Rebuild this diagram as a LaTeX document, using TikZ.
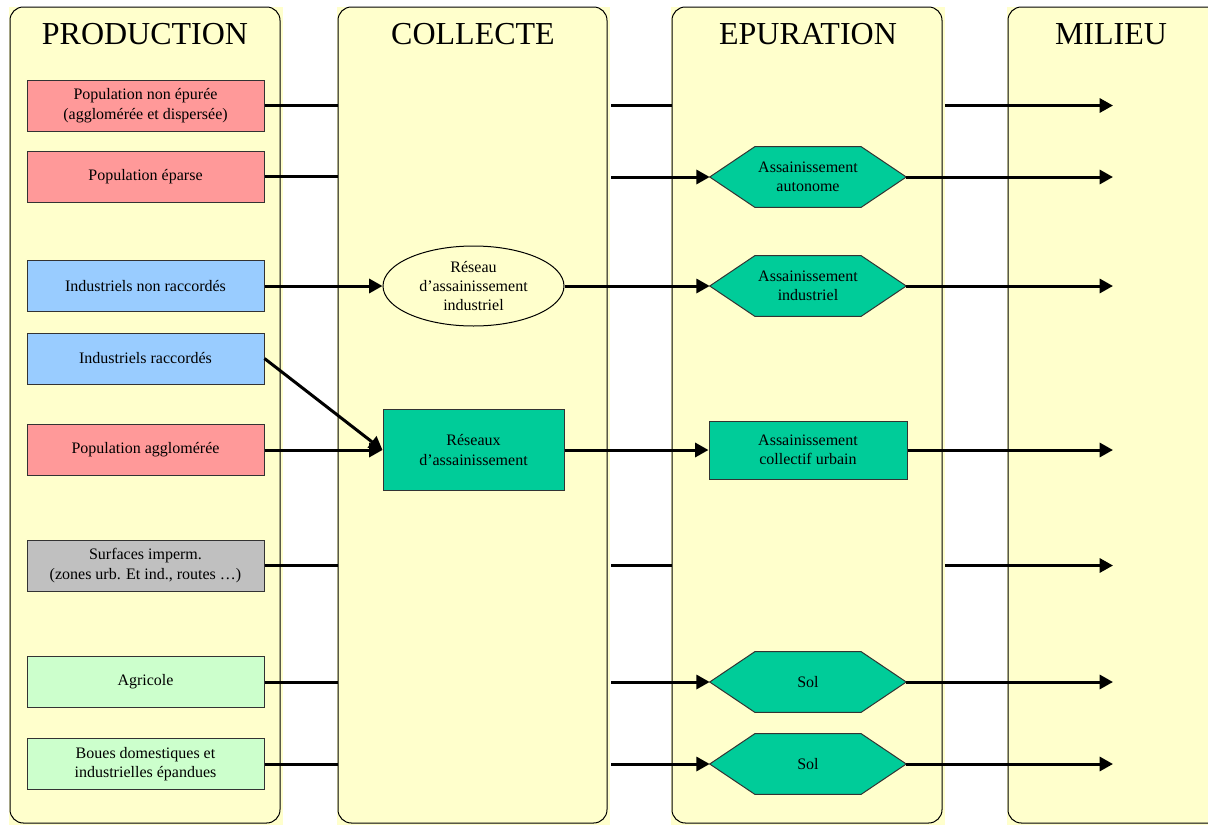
\documentclass[tikz,border=0pt]{standalone}
\usepackage{fontspec}
\setmainfont{Liberation Serif}
\usetikzlibrary{shapes.geometric,arrows.meta}
\pgfdeclarelayer{bg}
\pgfdeclarelayer{hexl}
\pgfsetlayers{bg,hexl,main}
\definecolor{colyel}{HTML}{FFFFCC}
\definecolor{pinkc}{HTML}{FF9999}
\definecolor{bluec}{HTML}{99CCFF}
\definecolor{grayc}{HTML}{C0C0C0}
\definecolor{greenc}{HTML}{CCFFCC}
\definecolor{tealc}{HTML}{00CC99}
\definecolor{edgec}{HTML}{333333}
\newcommand{\hexa}[1]{%
  \begin{pgfonlayer}{hexl}
  \filldraw[fill=tealc,draw=edgec,line width=0.75pt] (#1.west) -- ([xshift=33.75pt]#1.north west) -- ([xshift=-33.75pt]#1.north east) -- (#1.east) -- ([xshift=-33.75pt]#1.south east) -- ([xshift=33.75pt]#1.south west) -- cycle;
  \end{pgfonlayer}}
\begin{document}
\begin{tikzpicture}[x=0.75pt,y=-0.75pt,
  txt/.style={font=\fontsize{12}{14.5}\selectfont,align=center,inner sep=0pt},
  prod/.style={txt,draw=edgec,line width=0.75pt,minimum width=177.75pt,minimum height=38.25pt},
  title/.style={font=\fontsize{24}{28}\selectfont,anchor=base,inner sep=0pt},
  hexnode/.style={txt,minimum width=147pt,minimum height=45pt},
  conn/.style={line width=2.25pt},
  arr/.style={conn,-{Triangle[length=10pt,width=10.5pt]}},
]
\useasboundingbox (0,0) rectangle (1208,825);
\begin{pgfonlayer}{bg}
\fill[white] (0,0) rectangle (1208,825);
\foreach \l/\r in {10/280, 338/607, 672/942, 1008/1278} {
  \fill[colyel] (\l-1,7) rectangle (\r+3,826);
  \draw[line width=0.75pt, rounded corners=10pt] (\l,7) rectangle (\r,823);
}
\end{pgfonlayer}

% column reference coordinates
\coordinate (cCl) at (338,0);
\coordinate (cCr) at (611,0);
\coordinate (cEl) at (672,0);
\coordinate (cEr) at (945,0);
\coordinate (mend) at (1113,0);

% titles
\node[title] (tP) at (145,44) {PRODUCTION};
\node[title] (tC) at (473,44) {COLLECTE};
\node[title] (tE) at (808,44) {EPURATION};
\node[title] (tM) at (1111,44) {MILIEU};

% production boxes
\node[prod,fill=pinkc] (p1) at (145.5,105.5) {Population non épurée\\(agglomérée et dispersée)};
\node[prod,fill=pinkc] (p2) at (145.5,176.5) {Population éparse};
\node[prod,fill=bluec] (p3) at (145.5,286) {Industriels non raccordés};
\node[prod,fill=bluec] (p4) at (145.5,358.5) {Industriels raccordés};
\node[prod,fill=pinkc] (p5) at (145.5,450) {Population agglomérée};
\node[prod,fill=grayc] (p6) at (145.5,565.5) {Surfaces imperm.\\(zones urb. Et ind., routes …)};
\node[prod,fill=greenc] (p7) at (145.5,682) {Agricole};
\node[prod,fill=greenc] (p8) at (145.5,764) {Boues domestiques et\\industrielles épandues};

% collecte
\node[txt,ellipse,draw,line width=0.75pt,fill=colyel,minimum width=135.75pt,minimum height=60pt] (ri) at (473.5,286) {Réseau\\d’assainissement\\industriel};
\node[txt,draw=edgec,line width=0.75pt,fill=tealc,minimum width=135.75pt,minimum height=60.75pt] (rs) at (473.5,450) {Réseaux\\d’assainissement};

% epuration
\node[hexnode] (h1) at (808,177) {Assainissement\\autonome};
\hexa{h1}
\node[hexnode] (h2) at (808,286) {Assainissement\\industriel};
\hexa{h2}
\node[txt,draw=edgec,line width=0.75pt,fill=tealc,minimum width=148.5pt,minimum height=43.5pt] (cu) at (808,450) {Assainissement\\collectif urbain};
\node[hexnode] (s1) at (808,682) {Sol};
\hexa{s1}
\node[hexnode] (s2) at (808,764) {Sol};
\hexa{s2}

% row 1
\draw[conn] (p1.east) -- (p1.east -| cCl);
\draw[conn] (p1.east -| cCr) -- (p1.east -| cEl);
\draw[arr] (p1.east -| cEr) -- (p1.east -| mend);
% row 2
\draw[conn] (p2.east) -- (p2.east -| cCl);
\draw[arr] (h1.west -| cCr) -- (h1.west);
\draw[arr] (h1.east) -- (h1.east -| mend);
% row 3
\draw[arr] (p3.east) -- (ri.west);
\draw[arr] (ri.east) -- (h2.west);
\draw[arr] (h2.east) -- (h2.east -| mend);
% row 4
\draw[arr] (p4.east) -- (rs.west);
% row 5
\draw[arr] (p5.east) -- (rs.west);
\draw[arr] (rs.east) -- (cu.west);
\draw[arr] (cu.east) -- (cu.east -| mend);
% row 6
\draw[conn] (p6.east) -- (p6.east -| cCl);
\draw[conn] (p6.east -| cCr) -- (p6.east -| cEl);
\draw[arr] (p6.east -| cEr) -- (p6.east -| mend);
% row 7
\draw[conn] (p7.east) -- (p7.east -| cCl);
\draw[arr] (s1.west -| cCr) -- (s1.west);
\draw[arr] (s1.east) -- (s1.east -| mend);
% row 8
\draw[conn] (p8.east) -- (p8.east -| cCl);
\draw[arr] (s2.west -| cCr) -- (s2.west);
\draw[arr] (s2.east) -- (s2.east -| mend);
\end{tikzpicture}
\end{document}
